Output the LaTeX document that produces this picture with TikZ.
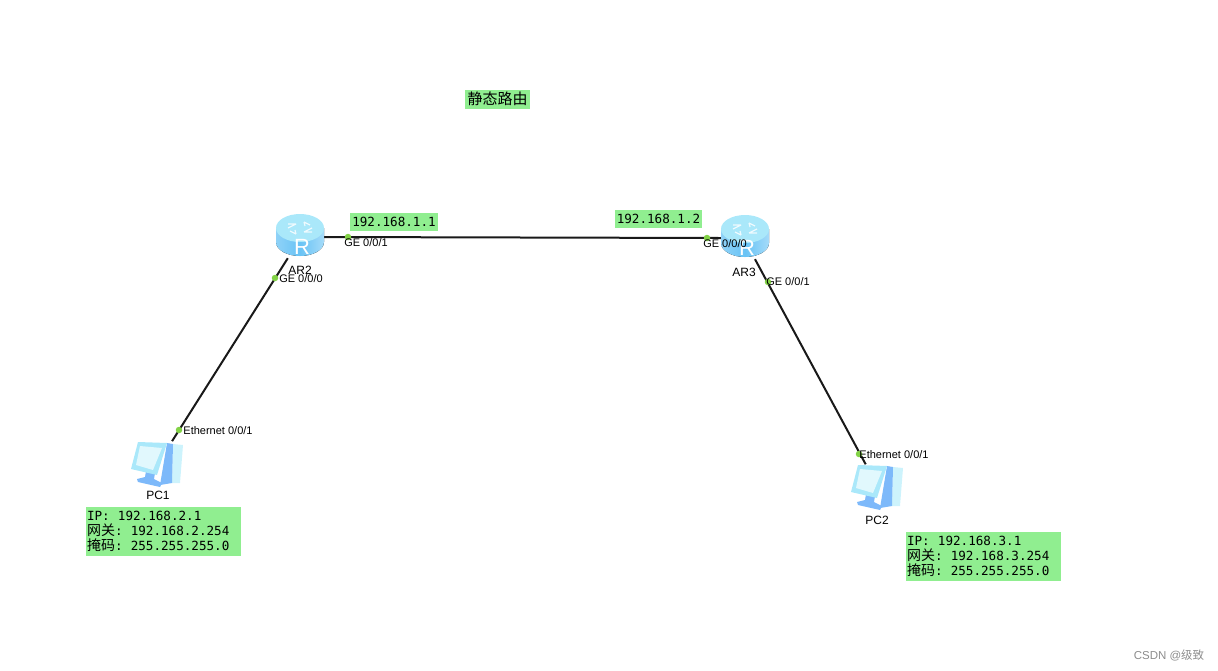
\documentclass[tikz,border=0pt]{standalone}
\usepackage{fontspec}
\setmainfont{Liberation Sans}
\setmonofont{DejaVu Sans Mono}
\newfontfamily\cjk{Noto Sans CJK SC}
\usetikzlibrary{positioning, calc}
\definecolor{notegreen}{RGB}{144,238,144}
\definecolor{portgreen}{RGB}{130,210,70}
\definecolor{routerlight}{RGB}{170,232,250}
\definecolor{routerblue}{RGB}{105,195,245}
\definecolor{pcpale}{RGB}{205,243,252}
\definecolor{pcblue}{RGB}{125,185,250}
\newcommand{\cjktext}[1]{{\cjk\fontsize{14}{15}\selectfont #1}}
\newcommand{\widecolon}{:\hspace{4pt}\ }

\begin{document}
\begin{tikzpicture}[x=1pt, y=-1pt,
  note/.style={fill=notegreen, inner sep=0pt, font=\ttfamily\fontsize{12.6}{15}\selectfont},
  infonote/.style={note, minimum width=155pt, minimum height=49pt, align=left, text width=153pt},
  port/.style={circle, fill=portgreen, inner sep=0pt, minimum size=6.5pt},
  portlabel/.style={inner sep=0pt, font=\fontsize{11}{12}\selectfont},
  devlabel/.style={inner sep=0pt, font=\fontsize{12}{12}\selectfont},
  routernode/.style={inner sep=0pt, minimum width=48pt, minimum height=42pt},
  pcnode/.style={inner sep=0pt, minimum width=32pt, minimum height=48pt},
  link/.style={line width=2pt, black!90},
  router/.pic={
    \fill[left color=routerblue!75, right color=routerblue!60!white, middle color=routerblue] (-24,-9) -- (-24,5) arc[start angle=180, end angle=360, x radius=24, y radius=-14] -- (24,-9) -- cycle;
    \fill[routerlight] (0,-9) ellipse[x radius=24, y radius=14];
    \draw[white!80!routerlight, line width=1.2pt] (-12,-9) -- (-4,-13) (-12,-13) -- (-4,-13) (12,-9) -- (4,-5) (12,-5) -- (4,-5) (4,-15) -- (10,-12) (4,-15) -- (5,-11) (-4,-3) -- (-10,-6) (-4,-3) -- (-5,-7);
    \node[text=white, inner sep=0pt, font=\fontsize{22}{22}\selectfont] at (2,10) {R};
  },
  pc/.pic={
    % tower, monitor, stand
    \fill[pcpale] (15,-18) -- (25,-17) -- (22,21) -- (14,21) -- cycle;
    \fill[pcblue] (9,-19) -- (15,-18) -- (14,21) -- (2,23) -- cycle;
    \fill[pcblue] (-21,17) -- (-13,15) -- (-12,9) -- (-3,11) -- (-4,17) -- (4,21) -- (2,25) -- (-20,20) -- cycle;
    \fill[routerlight] (-20,-20) -- (9,-19) -- (-1,13) -- (-27,7) -- cycle;
    \fill[pcpale!60!white] (-18,-16) -- (4,-14) -- (-5,8) -- (-22,3) -- cycle;
  }
]
\useasboundingbox (0,0) rectangle (1218,670);

% Devices first, so the links can use their names
\node[routernode] (ar2) at (300,237) {};
\node[routernode] (ar3) at (745,238) {};
\node[pcnode] (pc1) at (158,462) {};
\node[pcnode] (pc2) at (878,485) {};

% Links
\draw[link] (ar2.east) -- (ar3.west);
\path (ar2.south west) ++(12,0) coordinate (ar2foot);
\draw[link, shorten >=-4pt] (ar2foot) -- (pc1.north east);
\path (ar3.south) ++(10,0) coordinate (ar3foot);
\path (pc2.north west) ++(2,0) coordinate (pc2top);
\draw[link, shorten >=-4pt] (ar3foot) -- (pc2top);

% Icons on top of the links
\pic at (ar2) {router};
\pic at (ar3) {router};
\pic at (pc1) {pc};
\pic at (pc2) {pc};

% Device names
\node[devlabel] (ar2name) at (300,270) {AR2};
\node[devlabel] (ar3name) at (744,272) {AR3};
\node[devlabel] (pc1name) at (158,495) {PC1};
\node[devlabel] (pc2name) at (877,520) {PC2};

% Interface dots and their labels
\node[port] (ar2g1) at (348,237) {};
\node[port] (ar2g0) at (275,278) {};
\node[port] (pc1eth) at (179,430) {};
\node[port] (ar3g0) at (707,238) {};
\node[port] (ar3g1) at (768,282) {};
\node[port] (pc2eth) at (859,454) {};
\node[portlabel] at (366,243) {GE 0/0/1};
\node[portlabel] at (301,279) {GE 0/0/0};
\node[portlabel] at (218,431) {Ethernet 0/0/1};
\node[portlabel] at (725,244) {GE 0/0/0};
\node[portlabel] at (788,282) {GE 0/0/1};
\node[portlabel] at (894,455) {Ethernet 0/0/1};

% Notes
\node[note, minimum width=65pt, minimum height=19pt] (title) at (497.5,99) {\cjk\fontsize{15}{15}\selectfont 静态路由};
\node[note, minimum width=88pt, minimum height=18pt] (addr1) at (394,222) {192.168.1.1};
\node[note, minimum width=87pt, minimum height=18pt] (addr2) at (658.5,219) {192.168.1.2};
\node[infonote] (info1) at (163.5,531.5) {IP\widecolon 192.168.2.1\\\cjktext{网关}\widecolon 192.168.2.254\\\cjktext{掩码}\widecolon 255.255.255.0};
\node[infonote] (info2) at (983.5,556.5) {IP\widecolon 192.168.3.1\\\cjktext{网关}\widecolon 192.168.3.254\\\cjktext{掩码}\widecolon 255.255.255.0};

% Watermark
\node[inner sep=0pt, text=black!45, font=\fontsize{11.5}{12}\selectfont] (mark) at (1169,655) {CSDN @{\cjk 级致}};
\end{tikzpicture}
\end{document}
